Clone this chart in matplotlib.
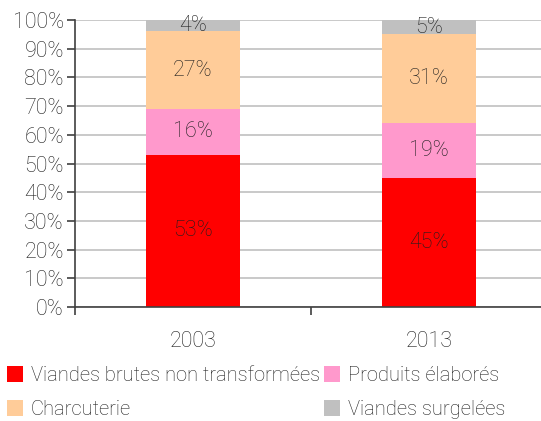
import matplotlib.pyplot as plt
from matplotlib.ticker import FixedLocator, PercentFormatter

plt.rcParams['font.family'] = ['Roboto', 'DejaVu Sans']
plt.rcParams['font.weight'] = 'light'

years = ['2003', '2013']
series = ['Viandes brutes non transformées', 'Produits élaborés', 'Charcuterie', 'Viandes surgelées']
values = {
    'Viandes brutes non transformées': [53, 45],
    'Produits élaborés': [16, 19],
    'Charcuterie': [27, 31],
    'Viandes surgelées': [4, 5],
}
colors = ['#ff0000', '#ff99cc', '#ffcc99', '#c0c0c0']
text_col = '#1f1f1f'

fig = plt.figure(figsize=(5.41, 4.21), dpi=100)
ax = fig.add_axes([75 / 541, 1 - 307 / 421, 472 / 541, 287 / 421])

x = range(len(years))
bottom = [0, 0]
bars = []
for name, c in zip(series, colors):
    v = values[name]
    b = ax.bar(x, v, 0.4, bottom=bottom, color=c, zorder=2, label=name)
    bars.append(b)
    for xi, vi, bi in zip(x, v, bottom):
        ax.text(xi, bi + vi / 2, f'{vi}%', ha='center', va='center',
                fontsize=15.5, color=text_col, zorder=3)
    bottom = [bo + vi for bo, vi in zip(bottom, v)]

ax.set_ylim(0, 100)
ax.set_xlim(-0.5, 1.5)
ax.yaxis.set_major_locator(FixedLocator(range(0, 101, 10)))
ax.yaxis.set_major_formatter(PercentFormatter(decimals=0))
ax.grid(axis='y', color='#c0c0c0', lw=1.2, zorder=0)

ax.set_xticks([-0.5, 0.5, 1.5])
ax.set_xticklabels([])
ax.set_xticks(list(x), minor=True)
ax.set_xticklabels(years, minor=True)
ax.tick_params(axis='x', which='minor', length=0, pad=17, labelsize=15.5, labelcolor=text_col)
ax.tick_params(axis='x', which='major', length=6, color='#404040', width=1.2)
ax.tick_params(axis='y', length=6, color='#404040', width=1.2, labelsize=15.5,
               labelcolor=text_col, pad=2)

for s in ['top', 'right']:
    ax.spines[s].set_visible(False)
for s in ['left', 'bottom']:
    ax.spines[s].set_color('#404040')
    ax.spines[s].set_linewidth(1.2)

order = [0, 2, 1, 3]
handles = [bars[i] for i in order]
labels = [series[i] for i in order]
leg = fig.legend(handles, labels, ncol=2, loc='lower left', bbox_to_anchor=(0.005, -0.005),
                 frameon=False, fontsize=14.5, handlelength=0.8, handleheight=0.8,
                 handletextpad=0.4, columnspacing=0.2, labelspacing=0.75,
                 borderaxespad=0.0, borderpad=0.2)
for t in leg.get_texts():
    t.set_color(text_col)

fig.savefig('out.png', dpi=100)
